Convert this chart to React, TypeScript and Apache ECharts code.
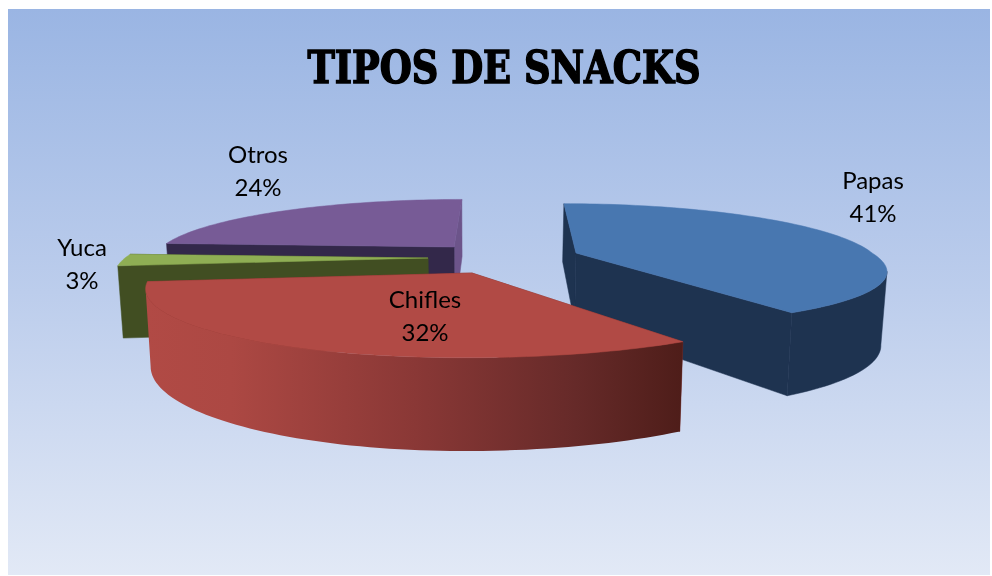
import React, { useEffect, useRef } from "react";
import * as echarts from "echarts";

const categories = ["Papas", "Chifles", "Yuca", "Otros"];
const values = [41, 32, 3, 24];
const chartTitle = "TIPOS DE SNACKS";

// Look of each slice: colours, explosion offset, drawing order, label centre
const sliceStyle = [
  { top: "#4877b0", start: "#1e3350", end: "#1e3350", outer: "#1e3350", ax: 75.7, az: -0.023, order: 2, lx: 873, ly: 196 },
  { top: "#b14a45", start: "#7a2f2c", end: "#7a2f2c", outer: "gradient", ax: -28.8, az: 0.0403, order: 3, lx: 425, ly: 315 },
  { top: "#8fae54", start: "#414e22", end: "#414e22", outer: "#414e22", ax: -74.5, az: -0.0065, order: 1, lx: 82, ly: 263 },
  { top: "#775b96", start: "#33284a", end: "#6c548a", outer: "#33284a", ax: -50, az: -0.0438, order: 0, lx: 258, ly: 170 },
];

// Perspective camera of the 3D pie
const CX = 502, HZ = -49, H = 309, D = 70.9, VX = 480, TILT = 0.985, RZ = 0.2;

function radius(deg: number) {
  const t = (deg * Math.PI) / 180;
  return Math.sin(t) < 0 ? 305 : 303 + 21 * Math.max(0, -Math.cos(t));
}
function project(X: number, z: number, low: boolean): number[] {
  const s = 1 / (1 - z);
  const x = CX + X * s;
  const y = HZ + H * s;
  return low ? [VX + (x - VX) * TILT, y + D * s] : [x, y];
}
function rim(st: any, deg: number, low: boolean) {
  const t = (deg * Math.PI) / 180;
  return project(st.ax + radius(deg) * Math.sin(t), st.az - RZ * Math.cos(t), low);
}
function rimZ(st: any, deg: number) {
  return st.az - RZ * Math.cos((deg * Math.PI) / 180);
}

const total = values.reduce((a, b) => a + b, 0);

function renderSlice(params: any, api: any) {
  const i = params.dataIndex;
  const st = sliceStyle[i];
  const before = values.slice(0, i).reduce((a, b) => a + b, 0);
  const a0 = (before / total) * 360;
  const a1 = a0 + (api.value(0) / total) * 360;
  const apexT = project(st.ax, st.az, false);
  const apexB = project(st.ax, st.az, true);
  const steps = Math.max(8, Math.round((a1 - a0) / 1.5));
  const arcT: number[][] = [];
  const arcB: number[][] = [];
  const arcZ: number[] = [];
  for (let k = 0; k <= steps; k++) {
    const d = a0 + ((a1 - a0) * k) / steps;
    arcT.push(rim(st, d, false));
    arcB.push(rim(st, d, true));
    arcZ.push(rimZ(st, d));
  }
  const fillOf = (c: string) =>
    c === "gradient"
      ? new echarts.graphic.LinearGradient(0, 0, 1, 0, [
          { offset: 0, color: "#b14a45" },
          { offset: 0.16, color: "#ac4843" },
          { offset: 0.5, color: "#8a3836" },
          { offset: 0.8, color: "#662a29" },
          { offset: 1, color: "#4e1d19" },
        ])
      : c;
  const faces: { pts: number[][]; c: string; z: number }[] = [
    { pts: [apexT, arcT[0], arcB[0], apexB], c: st.start, z: (st.az + arcZ[0]) / 2 },
    { pts: [apexT, arcT[steps], arcB[steps], apexB], c: st.end, z: (st.az + arcZ[steps]) / 2 },
  ];
  // Only the part of the rim that faces the viewer: x falls as the angle grows
  const front: number[] = [];
  for (let k = 0; k <= steps; k++) {
    const falling = (k < steps && arcT[k + 1][0] < arcT[k][0]) || (k > 0 && arcT[k][0] < arcT[k - 1][0]);
    if (falling) front.push(k);
  }
  if (front.length > 1) {
    const top = front.map((k) => arcT[k]);
    const low = front.map((k) => arcB[k]).reverse();
    const z = front.reduce((a, k) => a + arcZ[k], 0) / front.length;
    faces.push({ pts: [...top, ...low], c: st.outer, z });
  }
  faces.sort((p, q) => p.z - q.z);
  const base = st.order * 10;
  const children: any[] = faces.map((f, k) => ({
    type: "polygon",
    z2: base + k,
    shape: { points: f.pts },
    style: { fill: fillOf(f.c), stroke: f.c === "gradient" ? "none" : f.c, lineWidth: 0.5 },
  }));
  children.push({
    type: "polygon",
    z2: base + 5,
    shape: { points: [apexT, ...arcT] },
    style: { fill: st.top, stroke: st.top, lineWidth: 0.5 },
  });
  children.push({
    type: "text",
    z2: 100,
    x: st.lx,
    y: st.ly,
    style: {
      text: `${categories[i]}\n${Math.round((api.value(0) / total) * 100)}%`,
      fill: "#000000",
      font: '24px Lato, "Noto Sans", sans-serif',
      lineHeight: 33,
      align: "center",
      verticalAlign: "middle",
    },
  });
  return { type: "group", children };
}

export default function App() {
  const ref = useRef<HTMLDivElement>(null);
  useEffect(() => {
    const chart = echarts.init(ref.current!, null, { renderer: "svg" });
    chart.setOption({
      animation: false,
      graphic: [
        {
          type: "rect",
          z: -1,
          shape: { x: 8, y: 9, width: 982, height: 566 },
          style: {
            fill: new echarts.graphic.LinearGradient(0, 0, 0, 1, [
              { offset: 0, color: "#9ab5e3" },
              { offset: 0.5, color: "#bccdec" },
              { offset: 1, color: "#e2e9f6" },
            ]),
          },
        },
        {
          type: "text",
          z: 5,
          x: 504,
          y: 67,
          scaleX: 0.93,
          style: {
            text: chartTitle,
            fill: "#000000",
            stroke: "#000000",
            lineWidth: 1.4,
            font: 'bold 44px "DejaVu Serif Condensed", "DejaVu Serif", serif',
            align: "center",
            verticalAlign: "middle",
          },
        },
      ],
      series: [
        {
          type: "custom",
          coordinateSystem: "none",
          silent: true,
          data: values.map((v) => [v]),
          renderItem: renderSlice,
        },
      ],
    });
    return () => chart.dispose();
  }, []);
  return <div ref={ref} style={{ position: "fixed", left: 0, top: 0, width: 992, height: 576 }} />;
}
